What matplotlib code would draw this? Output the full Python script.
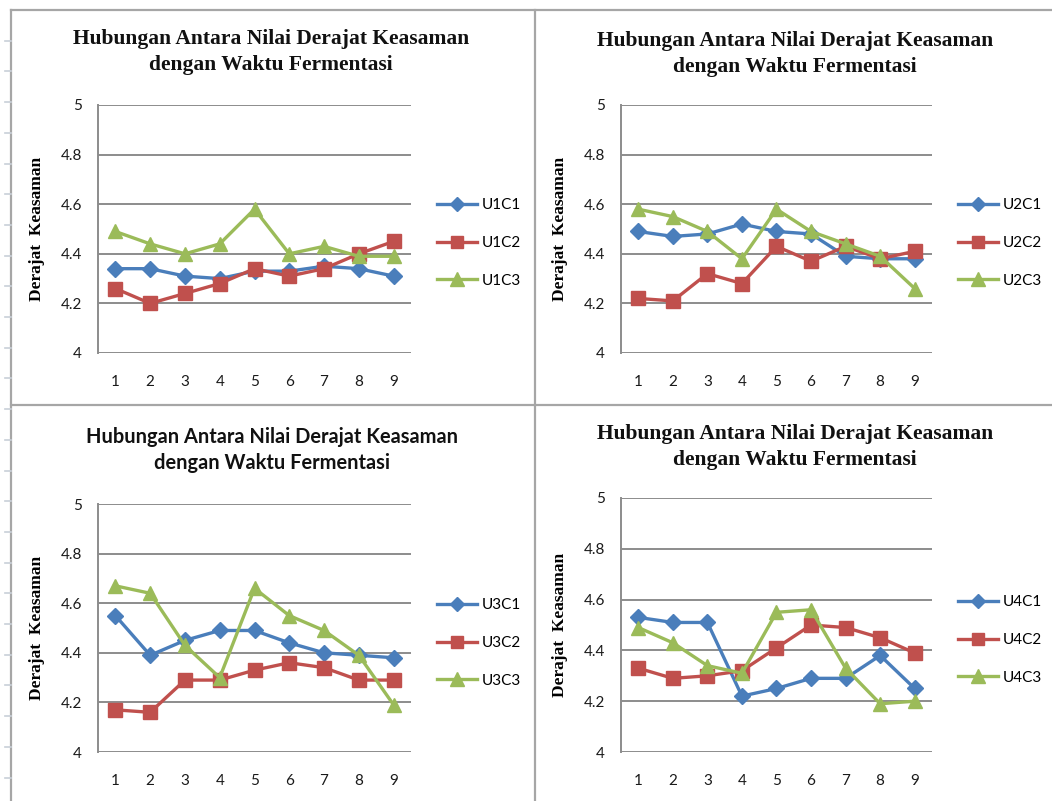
import numpy as np
import matplotlib
matplotlib.use("Agg")
import matplotlib.pyplot as plt
from matplotlib.lines import Line2D

W, H = 1052, 801

# waktu fermentasi (hari) and pH readings per treatment
waktu = [1, 2, 3, 4, 5, 6, 7, 8, 9]

U1C1 = [4.34, 4.34, 4.31, 4.30, 4.33, 4.33, 4.35, 4.34, 4.31]
U1C2 = [4.26, 4.20, 4.24, 4.28, 4.34, 4.31, 4.34, 4.40, 4.45]
U1C3 = [4.49, 4.44, 4.40, 4.44, 4.58, 4.40, 4.43, 4.39, 4.39]

U2C1 = [4.49, 4.47, 4.48, 4.52, 4.49, 4.48, 4.39, 4.38, 4.38]
U2C2 = [4.22, 4.21, 4.32, 4.28, 4.43, 4.37, 4.43, 4.38, 4.41]
U2C3 = [4.58, 4.55, 4.49, 4.38, 4.58, 4.49, 4.44, 4.39, 4.26]

U3C1 = [4.55, 4.39, 4.45, 4.49, 4.49, 4.44, 4.40, 4.39, 4.38]
U3C2 = [4.17, 4.16, 4.29, 4.29, 4.33, 4.36, 4.34, 4.29, 4.29]
U3C3 = [4.67, 4.64, 4.43, 4.30, 4.66, 4.55, 4.49, 4.39, 4.19]

U4C1 = [4.53, 4.51, 4.51, 4.22, 4.25, 4.29, 4.29, 4.38, 4.25]
U4C2 = [4.33, 4.29, 4.30, 4.32, 4.41, 4.50, 4.49, 4.45, 4.39]
U4C3 = [4.49, 4.43, 4.34, 4.31, 4.55, 4.56, 4.33, 4.19, 4.20]

y_ticks = [4, 4.2, 4.4, 4.6, 4.8, 5]
y_ticklabels = ["4", "4.2", "4.4", "4.6", "4.8", "5"]

judul = "Hubungan Antara Nilai Derajat Keasaman\ndengan Waktu Fermentasi"
label_y = "Derajat  Keasaman"

colors = ["#4a7ebb", "#c0504d", "#9bbb59"]
markers = ["D", "s", "^"]
msizes = [8, 9.5, 10]

serif_bold = dict(family="Liberation Serif", weight="bold", size=15.5)
sans_bold = dict(family="Lato", weight="bold", size=14.4)
tick_font = dict(family="Lato", size=11, color="#1a1a1a")

# plot area (x0, y0, x1, y1 in px), series, names, title font, title centre, ylabel x, legend anchor
panels = [
    ((98, 105, 411, 353), [U1C1, U1C2, U1C3], ["U1C1", "U1C2", "U1C3"],
     serif_bold, (271, 52), 45, (437, 243)),
    ((621, 105, 932, 353), [U2C1, U2C2, U2C3], ["U2C1", "U2C2", "U2C3"],
     serif_bold, (795, 54), 568, (958, 243)),
    ((98, 504, 411, 752), [U3C1, U3C2, U3C3], ["U3C1", "U3C2", "U3C3"],
     sans_bold, (272, 450), 45, (437, 643)),
    ((621, 498, 932, 752), [U4C1, U4C2, U4C3], ["U4C1", "U4C2", "U4C3"],
     serif_bold, (795, 447), 568, (958, 640)),
]

fig = plt.figure(figsize=(W / 100, H / 100), dpi=100)
fig.patch.set_facecolor("white")

for (x0, y0, x1, y1), series, names, tfont, (tx, ty), lab_x, (lx, ly) in panels:
    ax = fig.add_axes([x0 / W, 1 - y1 / H, (x1 - x0) / W, (y1 - y0) / H])
    for vals, name, c, m, ms in zip(series, names, colors, markers, msizes):
        ax.plot(waktu, vals, color=c, lw=2.4, marker=m, ms=ms, mec=c, label=name,
                solid_joinstyle="miter")
    ax.set_xlim(0.5, 9.5)
    ax.set_ylim(4, 5)
    ax.set_yticks(y_ticks)
    ax.set_yticklabels(y_ticklabels, **tick_font)
    ax.set_xticks(waktu)
    ax.set_xticklabels([str(w) for w in waktu], **tick_font)
    ax.tick_params(axis="y", length=0, pad=11.5)
    ax.tick_params(axis="x", length=0, pad=16)
    ax.grid(axis="y", color="#8c8c8c", lw=1.4)
    ax.set_axisbelow(True)
    for side in ["top", "right", "bottom"]:
        ax.spines[side].set_visible(False)
    ax.spines["left"].set_color("#8c8c8c")
    ax.spines["left"].set_linewidth(1.4)

    ax.set_ylabel(label_y, family="Liberation Serif", weight="bold", fontsize=12.5)
    ax.yaxis.set_label_coords((lab_x - x0) / (x1 - x0), 0.5)

    fig.text(tx / W, 1 - ty / H, judul, ha="center", va="center",
             linespacing=1.4, color="#111111", **tfont)

    ax.legend(loc="center left", bbox_to_anchor=(lx / W, 1 - ly / H),
              bbox_transform=fig.transFigure, frameon=False, borderaxespad=0,
              borderpad=0, handlelength=2.6, handletextpad=0.3, labelspacing=1.55,
              prop=dict(family="Lato", size=11), markerscale=0.95)

# sheet frame and panel separators
frame = dict(color="#a6a6a6", lw=1.6)
fig.add_artist(Line2D([11 / W, 11 / W], [0, 1 - 10 / H], transform=fig.transFigure, **frame))
fig.add_artist(Line2D([11 / W, 1], [1 - 10 / H, 1 - 10 / H], transform=fig.transFigure, **frame))
fig.add_artist(Line2D([535 / W, 535 / W], [0, 1 - 10 / H], transform=fig.transFigure, **frame))
fig.add_artist(Line2D([11 / W, 1], [1 - 405 / H, 1 - 405 / H], transform=fig.transFigure, **frame))
# row markers on the left edge
for ty in np.arange(40.7, H, 30.7):
    fig.add_artist(Line2D([5 / W, 11 / W], [1 - ty / H, 1 - ty / H],
                          transform=fig.transFigure, color="#c8cfd8", lw=1.2))

fig.savefig("out.png", dpi=100)
